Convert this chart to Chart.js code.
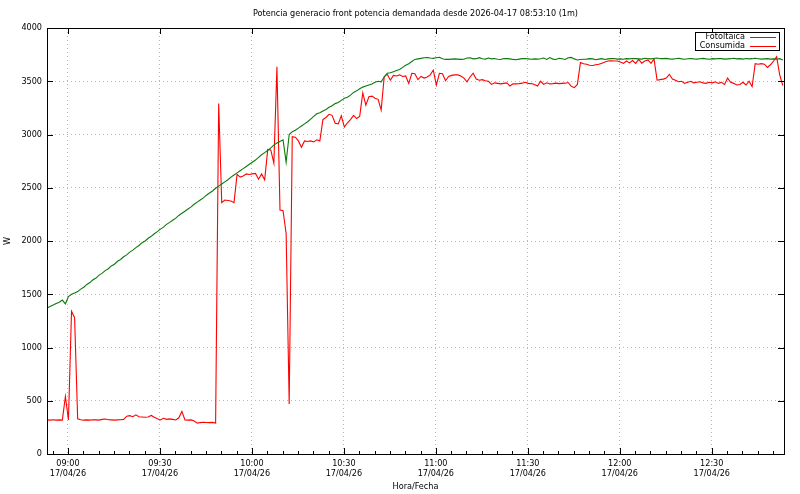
<!DOCTYPE html>
<html>
<head>
<meta charset="utf-8">
<script src="https://cdn.jsdelivr.net/npm/chart.js@4.4.0/dist/chart.umd.min.js"></script>
<style>
  body { margin: 0; background: #fff; }
  #wrap { width: 800px; height: 494px; }
</style>
</head>
<body>
<div id="wrap"><canvas id="chart" width="800" height="494"></canvas></div>
<script>
// minutes relative to 09:00, first sample at 08:53:10, one sample per minute
var startMinute = -6 - 50 / 60;
var titleText = 'Potencia generacio front potencia demandada desde 2026-04-17 08:53:10 (1m)';
var dateLabel = '17/04/26';
var hourLabels = ['09:00', '09:30', '10:00', '10:30', '11:00', '11:30', '12:00', '12:30'];
var hourTicks = [0, 30, 60, 90, 120, 150, 180, 210];
var yTicks = [0, 500, 1000, 1500, 2000, 2500, 3000, 3500, 4000];

var fotoltaica = [
  1370, 1385, 1398, 1412, 1425, 1445, 1410, 1478, 1500, 1512,
  1525, 1548, 1566, 1592, 1610, 1636, 1652, 1680, 1698, 1722,
  1740, 1766, 1782, 1810, 1826, 1852, 1870, 1896, 1914, 1938,
  1958, 1984, 2000, 2026, 2044, 2068, 2088, 2112, 2130, 2156,
  2175, 2195, 2215, 2240, 2260, 2280, 2300, 2320, 2345, 2365,
  2385, 2405, 2430, 2450, 2470, 2495, 2515, 2535, 2555, 2575,
  2600, 2620, 2640, 2660, 2680, 2700, 2720, 2740, 2760, 2785,
  2810, 2830, 2850, 2875, 2900, 2920, 2935, 2950, 2740, 3000,
  3027, 3040, 3060, 3080, 3100, 3120, 3145, 3170, 3195, 3205,
  3220, 3235, 3255, 3270, 3290, 3300, 3320, 3340, 3350, 3370,
  3395, 3410, 3430, 3445, 3455, 3465, 3475, 3490, 3500, 3495,
  3540, 3575, 3580, 3590, 3600, 3610, 3630, 3650, 3665, 3685,
  3705, 3710, 3715, 3720, 3722, 3718, 3715, 3720, 3725, 3712,
  3705, 3705, 3708, 3710, 3708, 3705, 3706, 3718, 3720, 3710,
  3712, 3722, 3712, 3708, 3718, 3710, 3714, 3706, 3704, 3714,
  3712, 3710, 3705, 3702, 3708, 3712, 3714, 3710, 3706, 3710,
  3708, 3712, 3718, 3705, 3722, 3708, 3704, 3715, 3712, 3705,
  3720, 3724, 3710, 3700, 3704, 3706, 3708, 3712, 3710, 3702,
  3708, 3712, 3705, 3710, 3712, 3714, 3708, 3710, 3706, 3712,
  3710, 3714, 3712, 3710, 3708, 3716, 3712, 3710, 3714, 3718,
  3712, 3712, 3715, 3710, 3708, 3712, 3716, 3710, 3706, 3712,
  3714, 3710, 3708, 3712, 3715, 3710, 3706, 3712, 3710, 3714,
  3712, 3708, 3710, 3712, 3716, 3710, 3712, 3708, 3714, 3710,
  3712, 3716, 3712, 3708, 3710, 3712, 3708, 3710, 3706, 3712,
  3700
];

var consumida = [
  320, 318, 322, 318, 320, 318, 540, 320, 1340, 1280,
  330, 322, 318, 320, 318, 322, 320, 318, 325, 328,
  322, 320, 318, 320, 322, 325, 355, 360, 350, 368,
  350, 348, 345, 348, 362, 345, 330, 320, 335, 325,
  330, 325, 320, 340, 400, 320, 318, 320, 310, 290,
  295, 298, 296, 295, 297, 290, 3290, 2360, 2385, 2380,
  2375, 2360, 2625, 2600, 2610, 2630, 2625, 2630, 2635, 2580,
  2630, 2575, 2860, 2855, 2730, 3635, 2290, 2285, 2070, 470,
  2980, 2975, 2940, 2880, 2940, 2935, 2940, 2930, 2950, 2940,
  3140, 3160, 3190, 3180, 3105, 3100, 3175, 3070, 3110, 3140,
  3180, 3150, 3170, 3390, 3275, 3355, 3360, 3340, 3330, 3230,
  3545, 3565, 3510, 3555, 3550, 3560, 3545, 3550, 3480, 3575,
  3570, 3515, 3545, 3530, 3540, 3560, 3605, 3465, 3575, 3570,
  3505, 3545, 3555, 3560, 3560, 3550, 3530, 3495, 3540, 3575,
  3520, 3510, 3515, 3505, 3500, 3470, 3485, 3480, 3475, 3480,
  3485, 3455, 3475, 3475, 3478, 3482, 3490, 3480, 3478, 3470,
  3455, 3500, 3470, 3485, 3475, 3478, 3482, 3478, 3480, 3482,
  3488, 3452, 3440, 3470, 3675, 3665, 3660, 3650, 3648, 3655,
  3660, 3670, 3680, 3690, 3692, 3690, 3690, 3680, 3668, 3690,
  3672, 3695, 3668, 3705, 3670, 3690, 3700, 3668, 3710, 3510,
  3515, 3520, 3530, 3565, 3520, 3510, 3495, 3500, 3480, 3490,
  3500, 3485, 3490, 3495, 3485, 3480, 3490, 3485, 3495, 3480,
  3490, 3470, 3530, 3490, 3480, 3465, 3470, 3490, 3465, 3500,
  3450, 3665, 3660, 3665, 3660, 3630, 3655, 3690, 3730, 3560,
  3460
];

var fontFamily = "'Liberation Sans Narrow', 'DejaVu Sans Condensed', 'Liberation Sans', sans-serif";

function toPoints(values) {
  return values.map(function(v, i) {
    return { x: startMinute + i, y: v };
  });
}

// gnuplot like frame, inward ticks, title and boxed legend
var framePlugin = {
  id: 'frame',
  afterDraw: function(chart) {
    var ctx = chart.ctx;
    var area = chart.chartArea;
    var xs = chart.scales.x;
    var ys = chart.scales.y;
    ctx.save();
    ctx.strokeStyle = '#000';
    ctx.lineWidth = 1;
    ctx.strokeRect(Math.round(area.left) + 0.5, Math.round(area.top) + 0.5,
      Math.round(area.right - area.left), Math.round(area.bottom - area.top));

    ctx.beginPath();
    for (var m = -5; m <= 230; m += 5) {
      var px = Math.round(xs.getPixelForValue(m)) + 0.5;
      var major = m % 30 === 0;
      var len = major ? 6 : 3;
      ctx.moveTo(px, area.bottom);
      ctx.lineTo(px, area.bottom - len);
      if (major) {
        ctx.moveTo(px, area.top);
        ctx.lineTo(px, area.top + len);
      }
    }
    yTicks.forEach(function(v) {
      var py = Math.round(ys.getPixelForValue(v)) + 0.5;
      ctx.moveTo(area.left, py);
      ctx.lineTo(area.left + 6, py);
      ctx.moveTo(area.right, py);
      ctx.lineTo(area.right - 6, py);
    });
    ctx.stroke();

    // title
    ctx.fillStyle = '#000';
    ctx.font = '9px ' + fontFamily;
    ctx.textAlign = 'center';
    ctx.textBaseline = 'middle';
    ctx.fillText(titleText, (area.left + area.right) / 2, 14);

    // legend
    var sets = chart.data.datasets;
    var boxR = Math.round(area.right) - 5;
    var boxL = boxR - 84;
    var boxT = Math.round(area.top) + 4;
    ctx.fillStyle = '#fff';
    ctx.fillRect(boxL, boxT, 84, 18);
    ctx.strokeStyle = '#000';
    ctx.strokeRect(boxL + 0.5, boxT + 0.5, 84, 18);
    sets.forEach(function(ds, k) {
      var ly = boxT + 5 + k * 9;
      ctx.fillStyle = '#000';
      ctx.textAlign = 'right';
      ctx.fillText(ds.label, boxR - 34, ly);
      ctx.strokeStyle = ds.borderColor;
      ctx.beginPath();
      ctx.moveTo(boxR - 29, ly + 0.5);
      ctx.lineTo(boxR - 3, ly + 0.5);
      ctx.stroke();
    });
    ctx.restore();
  }
};

var ctx = document.getElementById('chart').getContext('2d');
var chart = new Chart(ctx, {
  type: 'line',
  data: {
    datasets: [{
      label: 'Fotoltaica',
      data: toPoints(fotoltaica),
      borderColor: '#0b7a0b',
      borderWidth: 1.1,
      pointRadius: 0,
      tension: 0,
      fill: false
    }, {
      label: 'Consumida',
      data: toPoints(consumida),
      borderColor: '#ff0000',
      borderWidth: 1.1,
      pointRadius: 0,
      tension: 0,
      fill: false
    }]
  },
  options: {
    responsive: false,
    animation: false,
    layout: { padding: { top: 28, right: 16, left: 0, bottom: 0 } },
    plugins: {
      legend: { display: false },
      title: { display: false },
      tooltip: { enabled: false }
    },
    scales: {
      x: {
        type: 'linear',
        min: startMinute,
        max: startMinute + 240.4,
        afterBuildTicks: function(scale) {
          scale.ticks = hourTicks.map(function(v) { return { value: v }; });
        },
        afterFit: function(scale) { scale.height = 40; },
        ticks: {
          autoSkip: false,
          maxRotation: 0,
          padding: 5,
          color: '#000',
          font: { family: fontFamily, size: 9, lineHeight: 1.05 },
          callback: function(v) {
            var k = hourTicks.indexOf(v);
            return k < 0 ? '' : [hourLabels[k], dateLabel];
          }
        },
        grid: { color: '#b8b8b8', lineWidth: 1, drawTicks: false },
        border: { display: false, dash: [1, 3] },
        title: {
          display: true,
          text: 'Hora/Fecha',
          color: '#000',
          padding: { top: 0, bottom: 2 },
          font: { family: fontFamily, size: 9 }
        }
      },
      y: {
        min: 0,
        max: 4000,
        afterBuildTicks: function(scale) {
          scale.ticks = yTicks.map(function(v) { return { value: v }; });
        },
        afterFit: function(scale) { scale.width = 47; },
        ticks: {
          padding: 5,
          color: '#000',
          font: { family: fontFamily, size: 9 },
          callback: function(v) { return String(v); }
        },
        grid: {
          drawTicks: false,
          lineWidth: 1,
          color: function(c) {
            var v = c.tick ? c.tick.value : 0;
            return (v === 0 || v === 4000) ? 'rgba(0,0,0,0)' : '#b8b8b8';
          }
        },
        border: { display: false, dash: [1, 3] },
        title: {
          display: true,
          text: 'W',
          color: '#000',
          padding: { top: 2, bottom: 0 },
          font: { family: fontFamily, size: 9 }
        }
      }
    }
  },
  plugins: [framePlugin]
});
</script>
</body>
</html>
